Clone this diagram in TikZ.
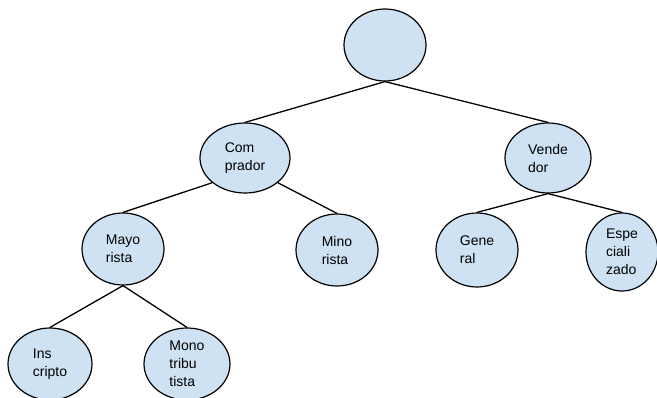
\documentclass[tikz,border=0pt]{standalone}
\usepackage{fontspec}
\setmainfont{Liberation Sans}
\usetikzlibrary{shapes.geometric}
\definecolor{nodeblue}{HTML}{CFE2F3}
\begin{document}
\begin{tikzpicture}[x=1pt,y=-1pt,
  oval/.style={draw=black, line width=1.2pt, fill=nodeblue, ellipse,
    minimum width=82pt, minimum height=72pt, inner sep=0pt, align=left,
    font=\fontsize{14}{18}\selectfont},
  link/.style={draw=black, line width=1.3pt}]
\useasboundingbox (0,0) rectangle (657,398);
\clip (0,0) rectangle (657,398);
\node[oval] (root) at (385,45) {};
\node[oval, minimum width=90pt, minimum height=70pt] (comp) at (245,158) {Com\\prador};
\node[oval, minimum width=86pt, minimum height=70pt] (vend) at (548,158) {Vende\\dor};
\node[oval] (mayo) at (123,249) {Mayo\\rista};
\node[oval] (mino) at (337,250) {Mino\\rista};
\node[oval, minimum height=74pt] (gen) at (477,250) {Gene\\ral};
\node[oval, minimum width=72pt, minimum height=78pt] (esp) at (622,252) {Espe\\ciali\\zado};
\node[oval, minimum width=84pt] (ins) at (50,364) {Ins\\cripto};
\node[oval, minimum width=86pt] (mono) at (187,364) {Mono\\tribu\\tista};
\draw[link] (root.south) -- (comp.north);
\draw[link] (root.south) -- (vend.north);
\draw[link] (comp.217) -- (mayo.north);
\draw[link] (comp.323) -- (mino.north);
\draw[link] (vend.south) -- (gen.north);
\draw[link] (vend.south) -- (esp.north);
\draw[link] (mayo.south) -- (ins.north);
\draw[link] (mayo.south) -- (mono.north);
\end{tikzpicture}
\end{document}
